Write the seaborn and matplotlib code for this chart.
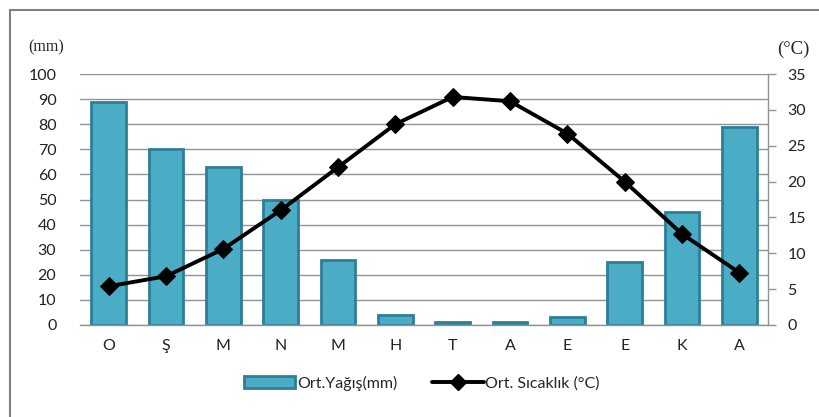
import matplotlib
matplotlib.use("Agg")
import matplotlib.pyplot as plt
import seaborn as sns
import pandas as pd
import numpy as np
from matplotlib.lines import Line2D
from matplotlib.patches import Patch, Rectangle

months = ["O", "Ş", "M", "N", "M", "H", "T", "A", "E", "E", "K", "A"]
precip_mm = [89, 70, 63, 50, 26, 4, 1, 1, 3, 25, 45, 79]
temp_c = [5.4, 6.8, 10.6, 16.0, 22.0, 28.0, 31.8, 31.2, 26.7, 20.0, 12.7, 7.3]
left_ticks = [0, 10, 20, 30, 40, 50, 60, 70, 80, 90, 100]
right_ticks = [0, 5, 10, 15, 20, 25, 30, 35]

sns.set_theme(style="white")
plt.rcParams['font.family'] = ['Lato', 'DejaVu Sans']

df = pd.DataFrame({"pos": np.arange(len(months)), "precip": precip_mm, "temp": temp_c})

fig = plt.figure(figsize=(8.19, 4.17), dpi=100)
fig.patch.set_facecolor("white")
# outer frame
fig.add_artist(Rectangle((10/819, -0.05), 1.2, 1 - 10/417 + 0.05, transform=fig.transFigure,
                         fill=False, edgecolor="#7f7f7f", linewidth=1.5))

ax = fig.add_axes([80/819, 1 - 325/417, (768-80)/819, (325-74)/417])
bar_color = "#4BACC6"
edge_color = "#2E7F96"
sns.barplot(data=df, x="pos", y="precip", ax=ax, color=bar_color, width=0.61,
            edgecolor=edge_color, linewidth=2, saturation=1)
ax.set_xlim(-0.5, len(months) - 0.5)
ax.set_ylim(0, 100)
ax.set_yticks(left_ticks)
ax.yaxis.grid(True, color="#939393", linewidth=1)
ax.set_axisbelow(True)
ax.set_xticks(range(len(months)))
ax.set_xticklabels(months)
ax.set_xlabel("")
ax.set_ylabel("")
for s in ["top", "right", "left"]:
    ax.spines[s].set_visible(False)
ax.spines["bottom"].set_color("#939393")
ax.spines["bottom"].set_linewidth(1)
ax.tick_params(axis="y", length=0, pad=17, labelsize=11.5, colors="#222222")
ax.tick_params(axis="x", length=0, pad=10, labelsize=11.5, colors="#222222")

ax2 = ax.twinx()
sns.lineplot(data=df, x="pos", y="temp", ax=ax2, color="black", linewidth=2.8,
             marker="D", markersize=9, markeredgecolor="black")
ax2.set_ylim(0, 35)
ax2.set_yticks(right_ticks)
ax2.set_ylabel("")
ax2.set_xlabel("")
for s in ["top", "left", "bottom"]:
    ax2.spines[s].set_visible(False)
ax2.spines["right"].set_color("#939393")
ax2.spines["right"].set_linewidth(1)
ax2.tick_params(axis="y", length=6, width=1, color="#939393", pad=8, labelsize=11.5, labelcolor="#222222")

fig.text(64/819, 1 - 47/417, "(mm)", ha="right", va="center", fontsize=11.5,
         family=["Liberation Serif"], color="#222222")
fig.text(793/819, 1 - 49/417, "(°C)", ha="center", va="center", fontsize=13.5,
         family=["Liberation Serif"], color="#222222")

handles = [Patch(facecolor=bar_color, edgecolor=edge_color, linewidth=2),
           Line2D([0], [0], color="black", linewidth=2.8, marker="D", markersize=8)]
fig.legend(handles, ["Ort.Yağış(mm)", "Ort. Sıcaklık (°C)"], loc="center",
           bbox_to_anchor=(422/819, 1 - 383/417), ncol=2, frameon=False,
           fontsize=11.5, handlelength=3.2, handletextpad=0.1, columnspacing=2.2)

fig.savefig("out.png", dpi=100)
